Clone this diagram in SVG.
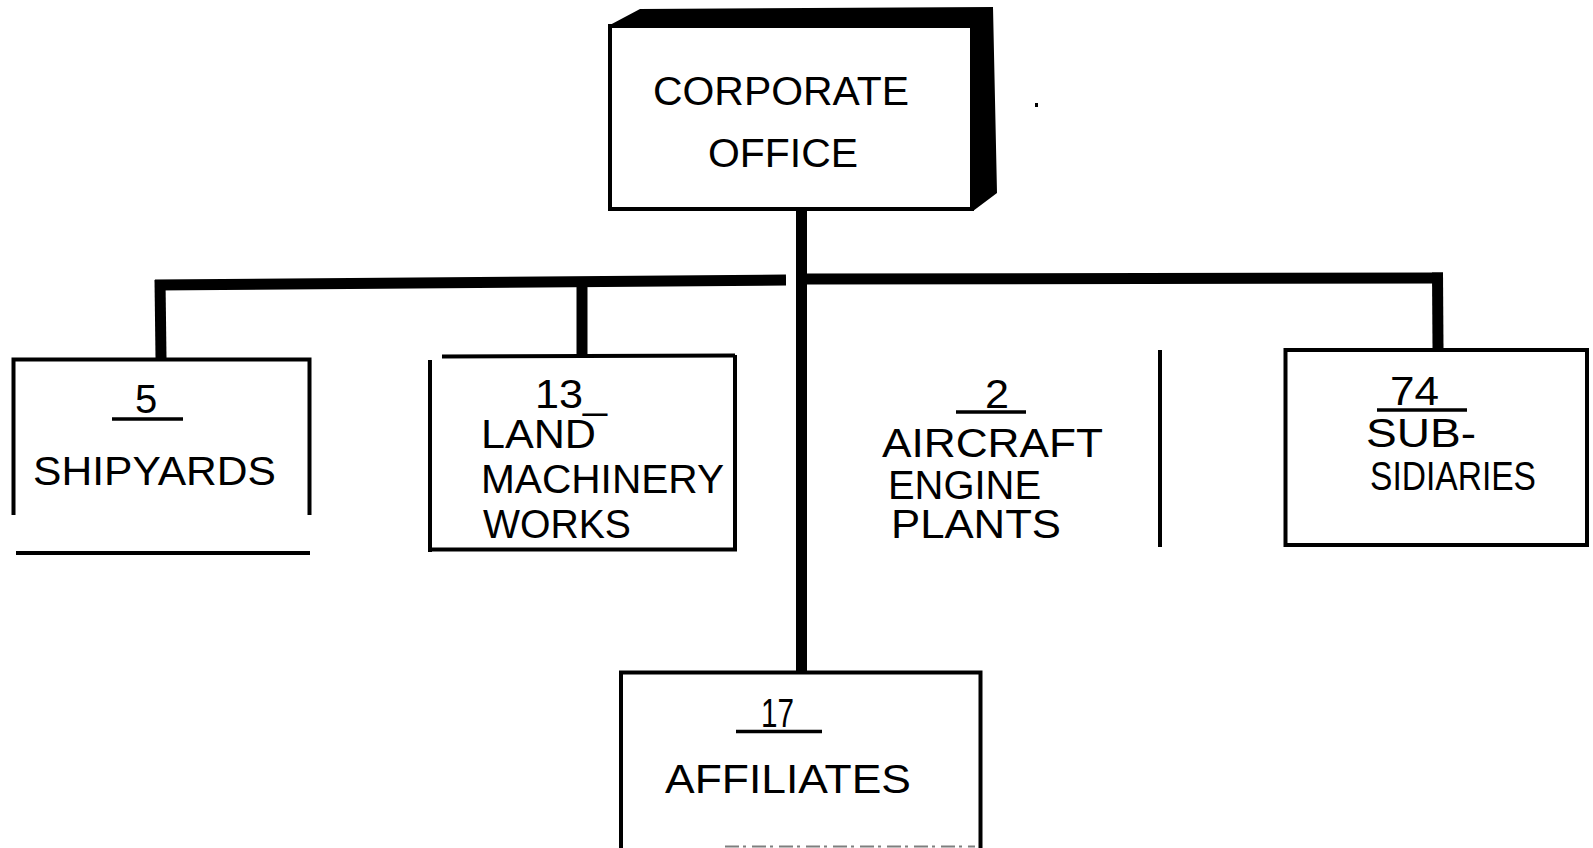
<svg xmlns="http://www.w3.org/2000/svg" width="1593" height="848" viewBox="0 0 1593 848">
<style>
.bg{fill:#fff}
.t{font-family:"Liberation Sans",Arial,sans-serif;font-size:40px;fill:#000}
.box{fill:none;stroke:#000;stroke-width:4}
.thin{stroke:#000;stroke-width:4;fill:none}
.ul{stroke:#000;stroke-width:3.5}
.conn{stroke:#000;stroke-width:11;fill:none;stroke-linecap:butt}
</style>
<rect class="bg" x="0" y="0" width="1593" height="848"/>
<g id="connectors">
<line class="conn" x1="801.5" y1="210" x2="801.5" y2="673"/>
<line class="conn" x1="155" y1="285" x2="786" y2="280"/>
<line class="conn" x1="807" y1="279" x2="1443" y2="278"/>
<line class="conn" x1="160" y1="280" x2="161" y2="358"/>
<line class="conn" x1="582" y1="281" x2="582" y2="356"/>
<line class="conn" x1="1437.5" y1="272.5" x2="1438" y2="348"/>
</g>
<g id="corporate-office">
<polygon points="608,26 640,9 993,7 997,193 973,211 971,26" fill="#000"/>
<rect x="610" y="26" width="362" height="183" fill="#fff" stroke="#000" stroke-width="4"/>
<text class="t" x="653" y="105" textLength="256" lengthAdjust="spacingAndGlyphs">CORPORATE</text>
<text class="t" x="708" y="167" textLength="150" lengthAdjust="spacingAndGlyphs">OFFICE</text>
</g>
<g id="shipyards">
<polyline class="thin" points="13.5,515 13.5,359.5 309.5,359.5 309.5,515"/>
<line class="thin" x1="16" y1="553" x2="310" y2="553"/>
<text class="t" x="135" y="413" font-size="38">5</text>
<line class="ul" x1="112" y1="419" x2="183" y2="419"/>
<text class="t" x="33" y="485" textLength="243" lengthAdjust="spacingAndGlyphs">SHIPYARDS</text>
</g>
<g id="land-machinery-works">
<line class="thin" x1="442" y1="356.5" x2="735" y2="355.5"/>
<line class="thin" x1="430" y1="360" x2="430" y2="552"/>
<line class="thin" x1="735" y1="355" x2="735" y2="551"/>
<line class="thin" x1="428" y1="549.5" x2="737" y2="549.5"/>
<text class="t" x="535" y="408" textLength="72" lengthAdjust="spacingAndGlyphs">13_</text>
<text class="t" x="481" y="448" textLength="115" lengthAdjust="spacingAndGlyphs">LAND</text>
<text class="t" x="481" y="493" textLength="243" lengthAdjust="spacingAndGlyphs">MACHINERY</text>
<text class="t" x="483" y="538" textLength="148" lengthAdjust="spacingAndGlyphs">WORKS</text>
</g>
<g id="aircraft-engine-plants">
<line class="thin" x1="1160" y1="350" x2="1160" y2="547"/>
<text class="t" x="985" y="408" textLength="24" lengthAdjust="spacingAndGlyphs">2</text>
<line class="ul" x1="956" y1="412" x2="1026" y2="412"/>
<text class="t" x="882" y="457" font-size="42" textLength="221" lengthAdjust="spacingAndGlyphs">AIRCRAFT</text>
<text class="t" x="888" y="499" font-size="38" textLength="153" lengthAdjust="spacingAndGlyphs">ENGINE</text>
<text class="t" x="891" y="538" font-size="38" textLength="170" lengthAdjust="spacingAndGlyphs">PLANTS</text>
</g>
<g id="subsidiaries">
<rect class="box" x="1285.5" y="350" width="301.5" height="195"/>
<text class="t" x="1390" y="405" font-size="42" textLength="49" lengthAdjust="spacingAndGlyphs">74</text>
<line class="ul" x1="1377" y1="410" x2="1467" y2="410"/>
<text class="t" x="1366" y="447" font-size="38" textLength="110" lengthAdjust="spacingAndGlyphs">SUB-</text>
<text class="t" x="1370" y="490" font-size="35" textLength="166" lengthAdjust="spacingAndGlyphs">SIDIARIES</text>
</g>
<g id="affiliates">
<polyline class="thin" points="621,848 621,672.5 980.5,672.5 980.5,848"/>
<line x1="725" y1="846.5" x2="975" y2="846.5" stroke="#000" stroke-width="2" stroke-dasharray="14,4,3,6" opacity="0.5"/>
<text class="t" x="761" y="727" textLength="33" lengthAdjust="spacingAndGlyphs">17</text>
<line class="ul" x1="736" y1="731.5" x2="822" y2="731.5"/>
<text class="t" x="665" y="793" textLength="246" lengthAdjust="spacingAndGlyphs">AFFILIATES</text>
</g>
<rect x="1035" y="103" width="3" height="4" fill="#000"/>
</svg>
